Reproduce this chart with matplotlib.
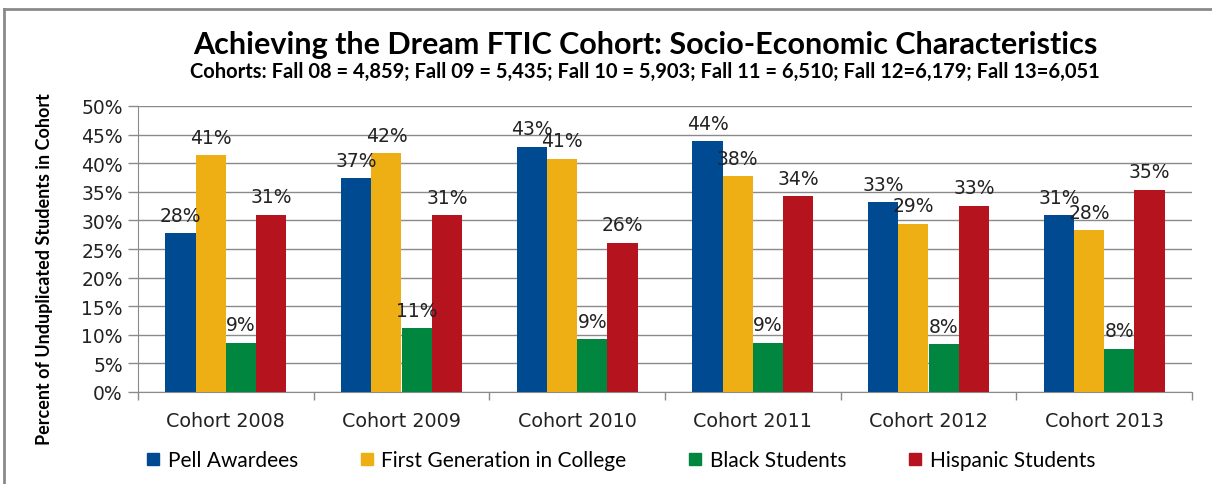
import matplotlib
matplotlib.use("Agg")
import matplotlib.pyplot as plt
import numpy as np
from matplotlib.lines import Line2D

categories = ["Cohort 2008", "Cohort 2009", "Cohort 2010", "Cohort 2011", "Cohort 2012", "Cohort 2013"]
series_names = ["Pell Awardees", "First Generation in College", "Black Students", "Hispanic Students"]
pell = [27.8, 37.4, 42.9, 43.8, 33.2, 30.9]
first_gen = [41.4, 41.8, 40.8, 37.7, 29.4, 28.3]
black = [8.6, 11.2, 9.2, 8.6, 8.4, 7.6]
hispanic = [31.0, 30.9, 26.1, 34.2, 32.6, 35.4]
yticks = [0, 5, 10, 15, 20, 25, 30, 35, 40, 45, 50]

title = "Achieving the Dream FTIC Cohort: Socio-Economic Characteristics"
subtitle = "Cohorts: Fall 08 = 4,859; Fall 09 = 5,435; Fall 10 = 5,903; Fall 11 = 6,510; Fall 12=6,179; Fall 13=6,051"
ylabel = "Percent of Unduplicated Students in Cohort"

colors = ["#004A91", "#EEAF15", "#00863F", "#B5131E"]

W, H = 1212, 485
fig = plt.figure(figsize=(W / 100, H / 100), dpi=100)
ax = fig.add_axes([138 / W, 1 - 393 / H, (1192 - 138) / W, (393 - 107) / H])

x = np.arange(len(categories))
bw = 0.172
data = [pell, first_gen, black, hispanic]
for i, (vals, c, name) in enumerate(zip(data, colors, series_names)):
    pos = x + (i - 1.5) * bw
    ax.bar(pos, vals, width=bw, color=c, label=name, zorder=3)
    for px, v in zip(pos, vals):
        ax.annotate(f"{round(v):d}%", (px, v), xytext=(0, 6), textcoords="offset points",
                    ha="center", va="bottom", fontsize=13.5, color="#222222",
                    family="DejaVu Sans", zorder=4)

ax.set_xlim(-0.5, len(categories) - 0.5)
ax.set_ylim(0, 50)
ax.set_yticks(yticks)
ax.set_yticklabels([f"{t}%" for t in yticks], fontsize=13.5, family="DejaVu Sans", color="#222222")
ax.yaxis.grid(True, color="#8a8a8a", linewidth=1.0, zorder=0)
ax.tick_params(axis="y", length=7, color="#8a8a8a", width=1.0, pad=4)

ax.set_xticks(x)
ax.set_xticklabels(categories, fontsize=13.8, family="DejaVu Sans", color="#222222")
ax.tick_params(axis="x", length=0, pad=14)
ax.set_xticks(np.arange(len(categories) + 1) - 0.5, minor=True)
ax.tick_params(axis="x", which="minor", length=6, color="#8a8a8a", width=1.0)

for s in ["top", "right"]:
    ax.spines[s].set_visible(False)
ax.spines["left"].set_color("#8a8a8a")
ax.spines["bottom"].set_color("#8a8a8a")

fig.text(45 / W, 1 - 269 / H, ylabel, rotation=90, ha="center", va="center",
         fontsize=13, fontweight="bold", family="Lato")

fig.text(645 / W, 1 - 45 / H, title, ha="center", va="center", fontsize=22,
         fontweight="bold", family="Lato")
fig.text(645 / W, 1 - 72 / H, subtitle, ha="center", va="center", fontsize=14.5,
         fontweight="bold", family="Lato")

handles = [Line2D([], [], marker="s", linestyle="none", markersize=9, color=c) for c in colors]
fig.legend(handles, series_names, loc="center", bbox_to_anchor=(621 / W, 1 - 461 / H),
           ncol=4, frameon=False, prop={"family": "Lato", "size": 15},
           handlelength=0.6, handletextpad=0.4, columnspacing=3.0)

fig.add_artist(Line2D([4 / W, 1], [1 - 10 / H, 1 - 10 / H], transform=fig.transFigure,
                      color="#8a8a8a", linewidth=2))
fig.add_artist(Line2D([4 / W, 4 / W], [0, 1 - 10 / H], transform=fig.transFigure,
                      color="#8a8a8a", linewidth=2))

fig.savefig("out.png", dpi=100)
